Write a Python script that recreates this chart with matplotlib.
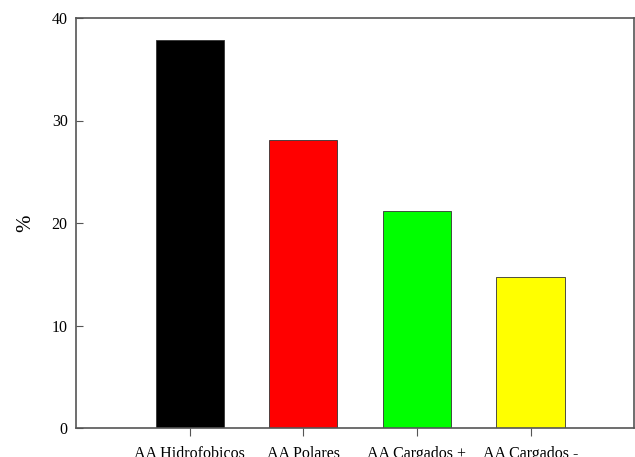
import matplotlib
matplotlib.use("Agg")
import matplotlib.pyplot as plt

categories = ["AA Hidrofobicos", "AA Polares", "AA Cargados +", "AA Cargados -"]
values = [37.85, 28.05, 21.2, 14.75]
colors = ["#000000", "#ff0000", "#00ff00", "#ffff00"]
yticks = [0, 10, 20, 30, 40]

plt.rcParams['font.family'] = ['Liberation Serif', 'DejaVu Serif']

fig = plt.figure(figsize=(6.35, 4.57), dpi=100)
ax = fig.add_axes([76/635, 1-428/457, (634-76)/635, (428-18)/457])

positions = [1, 2, 3, 4]
ax.bar(positions, values, width=0.6, color=colors, edgecolor="#333333", linewidth=0.6)
ax.set_xlim(0, 4.91)
ax.set_ylim(0, 40)
ax.set_yticks(yticks)
ax.set_xticks(positions)
ax.set_xticklabels(categories, fontsize=11.5)
ax.tick_params(axis='y', direction='in', labelsize=11.5, length=5, color="#555555", pad=6)
ax.tick_params(axis='x', direction='out', labelsize=11.5, length=6, color="#555555", pad=7)
for s in ax.spines.values():
    s.set_color("#555555")
    s.set_linewidth(1.2)
ax.set_ylabel("%", fontsize=15, labelpad=12)

fig.savefig("out.png", dpi=100)
